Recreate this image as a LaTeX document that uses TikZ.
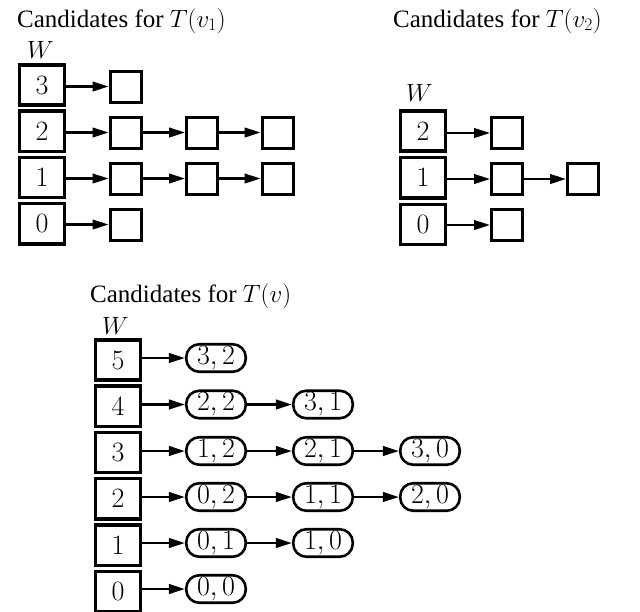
\RequirePackage{fix-cm}
\documentclass[tikz,border=0pt]{standalone}
\usepackage{fontspec}
\setmainfont{Liberation Serif}
\usetikzlibrary{arrows.meta}
\tikzset{
  ttl/.style={anchor=base west, inner sep=0pt, font=\fontsize{25}{30}\selectfont},
  wlbl/.style={anchor=base west, inner sep=0pt, font=\fontsize{25}{30}\selectfont},
  wbox/.style={draw, line width=3.4pt, minimum width=44.6pt, minimum height=40.3pt, inner sep=0pt, font=\fontsize{28}{32}\selectfont},
  sqbox/.style={draw, line width=3pt, minimum width=31pt, minimum height=31pt, inner sep=0pt},
  pairbox/.style={draw, line width=2.6pt, rounded corners=13pt, minimum width=59.5pt, minimum height=27.5pt, inner sep=0pt, font=\fontsize{28}{32}\selectfont},
  link/.style={line width=2.6pt, -{Triangle[length=16pt,width=9.5pt]}, shorten >=0pt}
}
\begin{document}
\begin{tikzpicture}[x=1pt,y=-1pt]
\useasboundingbox (0,0) rectangle (640,611);
\clip (0,0) rectangle (640,611);
% ---------- T(v1) ----------
\node[ttl] (t1) at (17,27) {Candidates for $T(v_1)$};
\node[wlbl] (w1) at (27,58) {$W$};
\foreach \i/\lab/\y in {a/3/85, b/2/131.3, c/1/177.6, d/0/223.9} {
  \node[wbox] (L\i) at (42,\y) {$\lab$};
}
\node[sqbox] (La1) at (125.5,86.5) {};
\node[sqbox] (Lb1) at (125.5,132.5) {};
\node[sqbox] (Lb2) at (202,132.5) {};
\node[sqbox] (Lb3) at (277.5,132.5) {};
\node[sqbox] (Lc1) at (125.5,178.5) {};
\node[sqbox] (Lc2) at (202,178.5) {};
\node[sqbox] (Lc3) at (277.5,178.5) {};
\node[sqbox] (Ld1) at (125.5,224.5) {};
\draw[link] (La.east |- La1) -- (La1.west);
\draw[link] (Lb.east |- Lb1) -- (Lb1.west);
\draw[link] (Lb1.east) -- (Lb2.west);
\draw[link] (Lb2.east) -- (Lb3.west);
\draw[link] (Lc.east |- Lc1) -- (Lc1.west);
\draw[link] (Lc1.east) -- (Lc2.west);
\draw[link] (Lc2.east) -- (Lc3.west);
\draw[link] (Ld.east |- Ld1) -- (Ld1.west);
% ---------- T(v2) ----------
\node[ttl] (t2) at (393,27) {Candidates for $T(v_2)$};
\node[wlbl] (w2) at (406,101) {$W$};
\foreach \i/\lab/\y in {a/2/131, b/1/177.8, c/0/224.6} {
  \node[wbox] (R\i) at (423,\y) {$\lab$};
}
\node[sqbox] (Ra1) at (507,133) {};
\node[sqbox] (Rb1) at (507,179) {};
\node[sqbox] (Rb2) at (583,179) {};
\node[sqbox] (Rc1) at (507,225) {};
\draw[link] (Ra.east |- Ra1) -- (Ra1.west);
\draw[link] (Rb.east |- Rb1) -- (Rb1.west);
\draw[link] (Rb1.east) -- (Rb2.west);
\draw[link] (Rc.east |- Rc1) -- (Rc1.west);
% ---------- T(v) ----------
\node[ttl] (t3) at (90,302) {Candidates for $T(v)$};
\node[wlbl] (w3) at (102,334) {$W$};
\foreach \i/\lab/\y in {a/5/360, b/4/406.3, c/3/452.6, d/2/498.9, e/1/545.2, f/0/591.5} {
  \node[wbox] (B\i) at (118,\y) {$\lab$};
}
\node[pairbox] (Ba1) at (216,358) {$3,2$};
\node[pairbox] (Bb1) at (216,404.5) {$2,2$};
\node[pairbox] (Bb2) at (323,404.5) {$3,1$};
\node[pairbox] (Bc1) at (216,451) {$1,2$};
\node[pairbox] (Bc2) at (323,451) {$2,1$};
\node[pairbox] (Bc3) at (430,451) {$3,0$};
\node[pairbox] (Bd1) at (216,497) {$0,2$};
\node[pairbox] (Bd2) at (323,497) {$1,1$};
\node[pairbox] (Bd3) at (430,497) {$2,0$};
\node[pairbox] (Be1) at (216,543) {$0,1$};
\node[pairbox] (Be2) at (323,543) {$1,0$};
\node[pairbox] (Bf1) at (216,589) {$0,0$};
\draw[link] (Ba.east |- Ba1) -- (Ba1.west);
\draw[link] (Bb.east |- Bb1) -- (Bb1.west);
\draw[link] (Bb1.east) -- (Bb2.west);
\draw[link] (Bc.east |- Bc1) -- (Bc1.west);
\draw[link] (Bc1.east) -- (Bc2.west);
\draw[link] (Bc2.east) -- (Bc3.west);
\draw[link] (Bd.east |- Bd1) -- (Bd1.west);
\draw[link] (Bd1.east) -- (Bd2.west);
\draw[link] (Bd2.east) -- (Bd3.west);
\draw[link] (Be.east |- Be1) -- (Be1.west);
\draw[link] (Be1.east) -- (Be2.west);
\draw[link] (Bf.east |- Bf1) -- (Bf1.west);
\end{tikzpicture}
\end{document}
